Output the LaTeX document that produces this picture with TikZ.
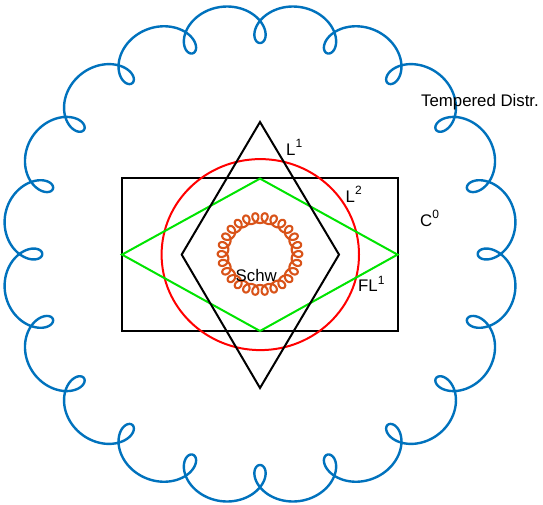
\documentclass[tikz,border=0pt]{standalone}
\usepackage{fontspec}
\setmainfont{Liberation Sans}
\definecolor{mblue}{RGB}{0,114,189}
\definecolor{morange}{RGB}{217,83,25}
\definecolor{mred}{RGB}{255,0,0}
\definecolor{mgreen}{RGB}{0,228,0}
\newcommand{\supr}[1]{\raisebox{7.5pt}{\fontsize{12}{12}\selectfont #1}}
\begin{document}
\begin{tikzpicture}[x=1pt,y=-1pt,
  lab/.style={anchor=base west, inner sep=0pt, font=\fontsize{16.8}{18}\selectfont},
  bluecurve/.style={draw=mblue, line width=2.4pt, line join=round},
  orangecurve/.style={draw=morange, line width=2.1pt, line join=round},
  boxline/.style={draw=black, line width=2pt},
  redline/.style={draw=mred, line width=2pt},
  greenline/.style={draw=mgreen, line width=2pt, line join=miter},
  blackline/.style={draw=black, line width=2pt, line join=miter}]
\useasboundingbox (0,0) rectangle (543,504);
\fill[white] (0,0) rectangle (543,504);
% blue curly cloud (tempered distributions)
\draw[bluecurve] plot[domain=0:360, samples=2401]
  ({260+1.032*((230.5-19.5*cos(20*\x))*cos(\x)+19.5*sin(20*\x)*sin(\x))},
   {254-((230.5-19.5*cos(20*\x))*sin(\x)-19.5*sin(20*\x)*cos(\x))}) -- cycle;
% orange curly ring (Schwartz)
\draw[orangecurve] plot[domain=0:360, samples=2401]
  ({260+1.032*((36+5*cos(26*\x))*cos(\x)+5*sin(26*\x)*sin(\x))},
   {254-((36+5*cos(26*\x))*sin(\x)-5*sin(26*\x)*cos(\x))}) -- cycle;
% C^0 rectangle
\draw[boxline] (121.7,178.3) rectangle (398,331);
% L^2 ellipse
\draw[redline] (260.3,254.6) ellipse [x radius=98.7, y radius=95.5];
% FL^1 diamond
\coordinate (gl) at (122,254.6);
\coordinate (gt) at (260,178.6);
\coordinate (gr) at (397.5,254.6);
\coordinate (gb) at (260,331);
\draw[greenline] (gl) -- (gt) -- (gr) -- (gb) -- cycle;
% L^1 diamond
\coordinate (bt) at (260,122);
\coordinate (br) at (339,254.6);
\coordinate (bb) at (260,388);
\coordinate (bl) at (181.7,254.6);
\draw[blackline] (bt) -- (br) -- (bb) -- (bl) -- cycle;
% labels
\node[lab] (tdist) at (421,106) {Tempered Distr.};
\node[lab] (lone) at (286,155) {L\supr{1}};
\node[lab] (ltwo) at (345.5,202) {L\supr{2}};
\node[lab] (czero) at (420,226) {C\supr{0}};
\node[lab] (flone) at (358,291.5) {FL\supr{1}};
\node[lab] (schw) at (235.5,281) {Schw};
\end{tikzpicture}
\end{document}
